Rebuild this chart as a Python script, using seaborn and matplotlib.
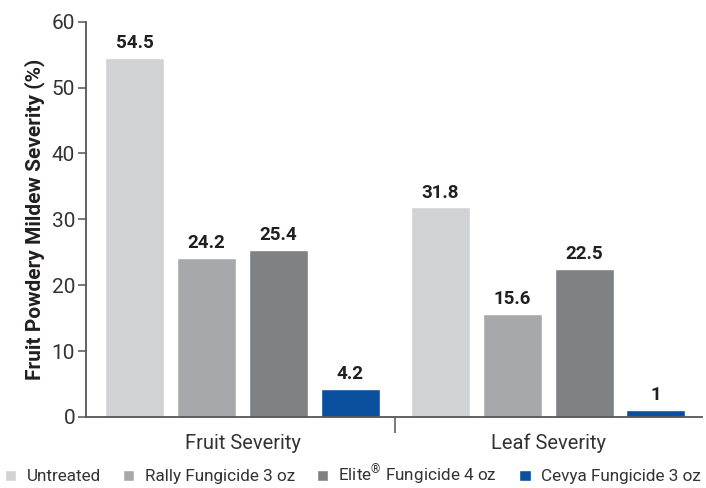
import matplotlib
matplotlib.use("Agg")
import matplotlib.pyplot as plt
import seaborn as sns
import pandas as pd
from matplotlib.ticker import FixedLocator

# ── data ─────────────────────────────────────────────────────────────
groups = ["Fruit Severity", "Leaf Severity"]
treatments = [
    "Untreated",
    "Rally Fungicide 3 oz",
    "Elite$^{\u00ae}$ Fungicide 4 oz",
    "Cevya Fungicide 3 oz",
]
fruit_values = [54.5, 24.2, 25.4, 4.2]
leaf_values = [31.8, 15.6, 22.5, 1.0]
fruit_labels = ["54.5", "24.2", "25.4", "4.2"]
leaf_labels = ["31.8", "15.6", "22.5", "1"]
colors = ["#d1d2d4", "#a7a8ab", "#808184", "#0b4f9f"]

rows = []
for t, fv, lv in zip(treatments, fruit_values, leaf_values):
    rows.append({"group": groups[0], "treatment": t, "value": fv})
    rows.append({"group": groups[1], "treatment": t, "value": lv})
df = pd.DataFrame(rows)

sns.set_style("white")
plt.rcParams["font.family"] = ["Roboto", "DejaVu Sans"]
plt.rcParams["mathtext.fontset"] = "custom"
plt.rcParams["mathtext.rm"] = "Roboto"

fig = plt.figure(figsize=(7.06, 4.88), dpi=100)
ax = fig.add_axes([0.122, 0.1455, 0.873, 0.81])

sns.barplot(
    data=df, x="group", y="value", hue="treatment",
    order=groups, hue_order=treatments,
    palette=colors, width=0.94, gap=0.18,
    saturation=1, legend=True, ax=ax,
)

# value labels above bars
label_map = {0: fruit_labels, 1: leaf_labels}
for i, cont in enumerate(ax.containers):
    for j, bar in enumerate(cont):
        ax.text(
            bar.get_x() + bar.get_width() / 2,
            bar.get_height() + 0.9,
            label_map[j][i],
            ha="center", va="bottom",
            fontsize=13.5, fontweight="bold", color="#231f20",
        )

ax.set_ylim(0, 60)
ax.set_xlim(-0.512, 1.505)
ax.set_yticks(range(0, 61, 10))
ax.set_xlabel("")
ax.set_ylabel("Fruit Powdery Mildew Severity (%)", fontsize=15,
              fontweight="bold", color="#231f20", labelpad=5)

for s in ["top", "right"]:
    ax.spines[s].set_visible(False)
for s in ["left", "bottom"]:
    ax.spines[s].set_color("#555555")
    ax.spines[s].set_linewidth(1.3)

ax.tick_params(axis="y", which="major", length=6, width=1.1, color="#555555",
               labelsize=15, labelcolor="#333333", pad=2, left=True)
ax.tick_params(axis="x", which="major", length=0, labelsize=14.5,
               labelcolor="#333333", pad=12)
ax.xaxis.set_minor_locator(FixedLocator([0.5]))
ax.tick_params(axis="x", which="minor", length=11.5, width=1.1,
               color="#555555", bottom=True)

leg = ax.legend(
    loc="lower center", bbox_to_anchor=(0.5, 0.0),
    bbox_transform=fig.transFigure, ncol=4,
    frameon=False, fontsize=12.3, handlelength=0.65, handleheight=0.65,
    handletextpad=0.6, columnspacing=1.3, borderaxespad=0.0, borderpad=0.05,
)
for txt in leg.get_texts():
    txt.set_color("#333333")

plt.savefig("out.png", dpi=100)
plt.close()
